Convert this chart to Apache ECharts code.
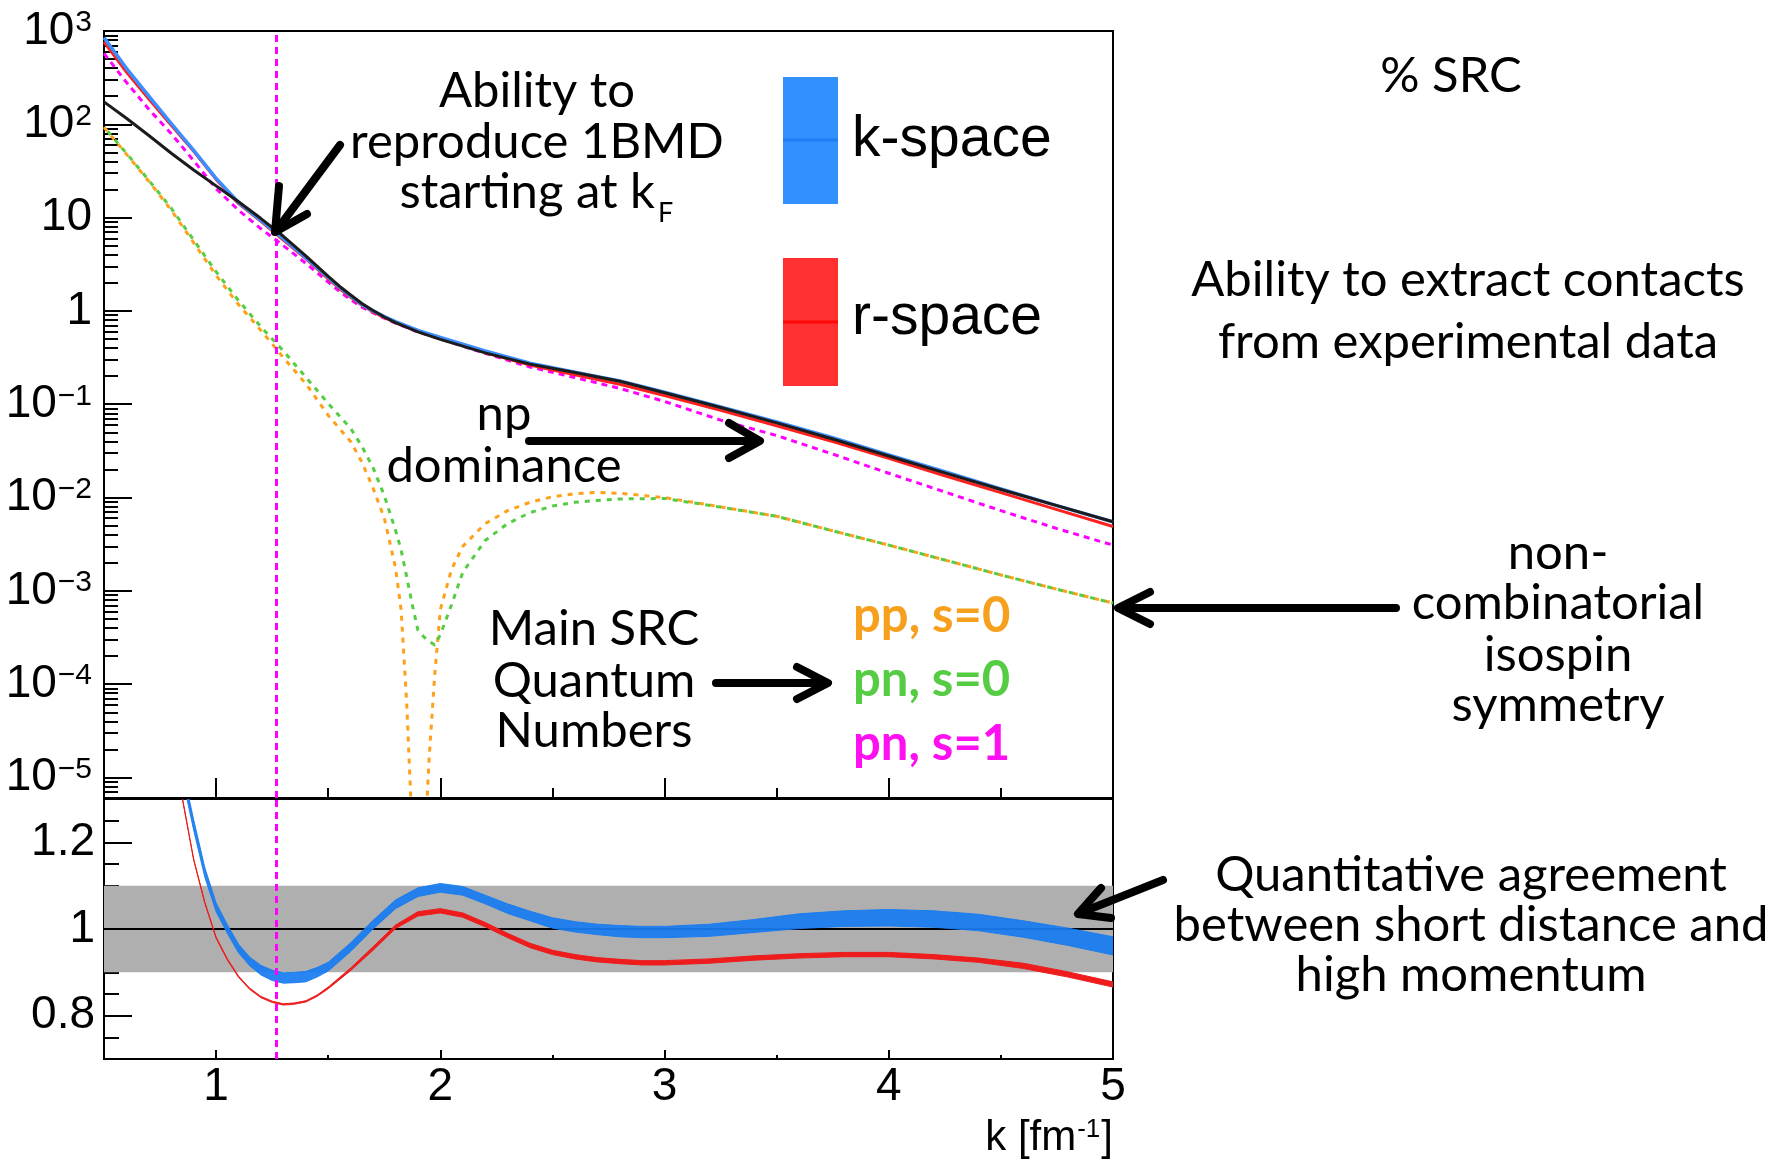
<!DOCTYPE html>
<html><head><meta charset="utf-8">
<script src="https://cdn.jsdelivr.net/npm/echarts@6/dist/echarts.min.js"></script>
<style>html,body{margin:0;padding:0;background:#fff}#c{width:1777px;height:1161px}</style>
</head><body><div id="c"></div>
<script>
// ---------------- data ----------------
// upper pad: momentum distribution n(k)
const kTop = [0.5,0.6,0.7,0.8,0.9,1.0,1.1,1.2,1.3,1.4,1.5,1.55,1.6,1.65,1.7,1.75,1.8,1.9,2.0,2.2,2.4,2.6,2.8,3.0,3.25,3.5,3.75,4.0,4.25,4.5,4.75,5.0];
const nBMD    = [174,116,75.9,49.0,32.4,21.9,14.8,9.77,6.31,3.89,2.34,1.84,1.48,1.20,1.01,0.861,0.75,0.596,0.495,0.355,0.269,0.219,0.176,0.133,0.0923,0.0631,0.0424,0.0279,0.0184,0.0122,0.0082,0.0055];
const nKspace = [851,398,200,102,52.5,26.3,14.5,9.33,5.96,3.72,2.29,1.80,1.445,1.175,1.0,0.871,0.767,0.617,0.519,0.372,0.275,0.221,0.178,0.135,0.0935,0.0645,0.0437,0.0287,0.0189,0.01235,0.0082,0.00548];
const nRspace = [767,363,186,97.7,51.3,25.7,14.1,9.12,5.75,3.63,2.21,1.74,1.40,1.15,0.977,0.851,0.75,0.603,0.507,0.359,0.263,0.207,0.164,0.124,0.0861,0.0589,0.0399,0.0263,0.01714,0.01128,0.00743,0.0049];
const nPnS1   = [575,282,145,79.4,40.7,20.4,12.0,7.59,5.01,3.24,2.04,1.62,1.32,1.10,0.955,0.836,0.741,0.596,0.501,0.351,0.251,0.193,0.148,0.107,0.0676,0.0462,0.0292,0.0182,0.01148,0.00724,0.00465,0.00309];

const kPair = [0.5,0.6,0.7,0.8,0.9,1.0,1.1,1.2,1.3,1.4,1.5,1.6,1.65,1.7,1.75,1.8,1.825,1.85,1.875,1.9,1.925,1.95,1.975,2.0,2.05,2.1,2.2,2.3,2.4,2.5,2.6,2.7,2.8,3.0,3.25,3.5,3.75,4.0,4.25,4.5,4.75,5.0];
const nPpS0 = [93.3,47.9,24.5,12.0,5.37,2.40,1.17,0.617,0.316,0.166,0.0759,0.0398,0.024,0.0126,0.00603,0.00178,6.3e-4,6.3e-5,2.5e-6,1e-8,1e-6,1.6e-5,1.26e-4,6.3e-4,1.7e-3,3.0e-3,5.25e-3,7.24e-3,8.9e-3,0.0102,0.011,0.01135,0.0111,0.01,0.00794,0.0063,0.0044,0.00309,0.00214,0.00148,0.00104,0.00074];
const nPnS0 = [93.3,49.0,25.1,12.6,5.75,2.63,1.29,0.676,0.372,0.195,0.102,0.055,0.0355,0.0209,0.0105,0.00447,0.00275,0.00141,7.1e-4,3.8e-4,3.24e-4,2.88e-4,2.63e-4,3.39e-4,7.1e-4,1.58e-3,3.47e-3,5.25e-3,6.9e-3,8.1e-3,8.9e-3,9.3e-3,9.66e-3,9.77e-3,0.0079,0.0063,0.0044,0.00309,0.00214,0.00148,0.00104,0.00074];

// lower pad: ratio to 1BMD
const kRatio = [0.85,0.9,0.95,1.0,1.05,1.1,1.15,1.2,1.25,1.3,1.35,1.4,1.45,1.5,1.6,1.7,1.8,1.9,2.0,2.1,2.2,2.3,2.4,2.5,2.6,2.7,2.8,2.9,3.0,3.2,3.4,3.6,3.8,4.0,4.2,4.4,4.6,4.8,5.0];
const ratioK    = [1.36,1.24,1.13,1.05,1.0,0.955,0.925,0.905,0.893,0.887,0.888,0.89,0.9,0.913,0.958,1.01,1.057,1.085,1.095,1.088,1.068,1.047,1.03,1.014,1.005,0.999,0.995,0.993,0.993,0.997,1.007,1.018,1.024,1.026,1.023,1.015,1.0,0.982,0.961];
const ratioKErr = [0.012,0.012,0.011,0.01,0.01,0.01,0.01,0.011,0.012,0.012,0.012,0.012,0.011,0.01,0.01,0.01,0.01,0.01,0.01,0.01,0.01,0.011,0.011,0.012,0.012,0.012,0.013,0.013,0.013,0.014,0.015,0.017,0.018,0.019,0.019,0.019,0.019,0.02,0.021];
const ratioR    = [1.30,1.16,1.06,0.98,0.93,0.89,0.862,0.843,0.832,0.826,0.828,0.833,0.846,0.864,0.907,0.955,1.005,1.035,1.042,1.032,1.01,0.985,0.962,0.946,0.936,0.929,0.925,0.922,0.922,0.926,0.933,0.938,0.941,0.941,0.936,0.928,0.915,0.895,0.872];
const ratioRErr = [0.0015,0.0015,0.0015,0.0015,0.0015,0.0015,0.0015,0.0015,0.0015,0.0015,0.0015,0.0015,0.0015,0.002,0.003,0.004,0.004,0.005,0.005,0.005,0.005,0.005,0.005,0.005,0.005,0.005,0.005,0.005,0.005,0.005,0.005,0.005,0.005,0.005,0.005,0.005,0.006,0.006,0.006];
const ratioBand = [0.9, 1.1];
const kF = 1.27;

// tick labels
const kMajor = [1,2,3,4,5];
const kMinor = [1.5,2.5,3.5,4.5];
const decades = [-5,-4,-3,-2,-1,0,1,2,3];
const ratioMajor = [0.8,1.0,1.2];
const ratioMinor = [0.75,0.85,0.9,0.95,1.05,1.1,1.15,1.25];

// ---------------- chart ----------------
const HEL = 'Liberation Sans';
const CAL = 'Lato';
const LBL = 46, SUP = 30;
const decMinor = [];
for (let n = -6; n <= 2; n++) for (let m = 2; m <= 9; m++) { const t = n + Math.log10(m); if (t > -5.22 && t < 3) decMinor.push(t); }
const toXY = (ks, vs) => ks.map((k, i) => [k, Math.log10(vs[i])]);

function xAx(grid, ticks, len, labels) {
  return {
    type: 'value', gridIndex: grid, position: 'bottom', min: 0.5, max: 5,
    axisLine: {show: false, onZero: false}, splitLine: {show: false},
    axisTick: {show: true, inside: true, length: len, customValues: ticks, lineStyle: {color: '#000', width: 2}},
    axisLabel: labels ? {show: true, customValues: labels, margin: 5, color: '#000', fontFamily: HEL, fontSize: LBL, formatter: v => String(v)} : {show: false}
  };
}
function yAx(grid, min, max, ticks, len, labels, fmt, margin) {
  const ax = {
    type: 'value', gridIndex: grid, position: 'left', min: min, max: max,
    axisLine: {show: false, onZero: false}, splitLine: {show: false},
    axisTick: {show: true, inside: true, length: len, customValues: ticks, lineStyle: {color: '#000', width: 2}},
    axisLabel: {show: false}
  };
  if (labels) {
    ax.axisLabel = {show: true, customValues: labels, margin: margin, color: '#000', fontFamily: HEL, fontSize: LBL, formatter: fmt,
      rich: {b: {fontFamily: HEL, fontSize: LBL, color: '#000'}, s: {fontFamily: HEL, fontSize: SUP, color: '#000', verticalAlign: 'top', padding: [0, 0, 0, 1]}}};
  }
  return ax;
}
const powFmt = v => {
  const p = Math.round(v);
  if (p === 0) return '{b|1}';
  if (p === 1) return '{b|10}';
  return '{b|10}{s|' + (p < 0 ? '\u2212' + (-p) : String(p)) + '}';
};
const ratioFmt = v => (Math.abs(v - 1) < 1e-9 ? '1' : String(+v.toFixed(2)));

function curve(name, ks, vs, color, width, dash, z) {
  return {
    name: name, type: 'line', xAxisIndex: 0, yAxisIndex: 0, data: toXY(ks, vs),
    showSymbol: false, symbol: 'none', clip: true, z: z, silent: true, smooth: false,
    lineStyle: {color: color, width: width, type: dash ? dash.type : 'solid', dashOffset: dash ? dash.offset : 0, cap: 'butt', join: 'round'}
  };
}
function band(name, centers, errs, color, z) {
  const rows = kRatio.map((k, i) => [k, centers[i] - errs[i], centers[i] + errs[i]]);
  return {
    name: name, type: 'custom', xAxisIndex: 2, yAxisIndex: 2, z: z, clip: true, silent: true,
    data: rows, encode: {x: 0, y: [1, 2]},
    renderItem: function (params, api) {
      if (params.dataIndex !== 0) return null;
      const top = rows.map(r => api.coord([r[0], r[2]]));
      const bot = rows.map(r => api.coord([r[0], r[1]])).reverse();
      return {type: 'polygon', shape: {points: top.concat(bot)}, style: {fill: color, stroke: color, lineWidth: 1, lineJoin: 'round'}};
    }
  };
}
const kFLine = (xi, yi, y0) => ({
  type: 'line', xAxisIndex: xi, yAxisIndex: yi, data: [[kF, y0]], showSymbol: false, symbol: 'none',
  lineStyle: {opacity: 0}, z: 10, silent: true,
  markLine: {silent: true, symbol: ['none', 'none'], label: {show: false}, animation: false,
    lineStyle: {color: '#ff00ff', width: 3, type: [7, 5]}, data: [{xAxis: kF}]}
});

// annotation helpers
function T(text, x, base, size, opts) {
  opts = opts || {};
  const fam = opts.family || CAL;
  return {type: 'text', x: x, y: base - (opts.k || 0.35) * size, z: 50, silent: true,
    style: {text: text, font: (opts.weight || 'normal') + ' ' + size + 'px "' + fam + '"', fill: opts.color || '#000',
      align: opts.align || 'center', verticalAlign: 'middle'}};
}
function arrow(shaft, head) {
  return [
    {type: 'line', z: 50, silent: true, shape: {x1: shaft[0], y1: shaft[1], x2: shaft[2], y2: shaft[3]}, style: {stroke: '#000', lineWidth: 8, lineCap: 'round'}},
    {type: 'polyline', z: 50, silent: true, shape: {points: head}, style: {stroke: '#000', lineWidth: 8, fill: null, lineCap: 'round', lineJoin: 'round'}}
  ];
}

const graphics = [
  T('Ability to', 537, 108, 49),
  T('reproduce 1BMD', 537, 159, 49),
  T('starting at k', 655, 209, 49, {align: 'right'}),
  T('F', 658, 223, 27, {align: 'left'}),
  T('np', 504, 431, 49),
  T('dominance', 504, 483, 49),
  T('Main SRC', 594, 646, 49),
  T('Quantum', 594, 698, 49),
  T('Numbers', 594, 748, 49),
  T('pp, s=0', 853, 633, 49, {align: 'left', weight: 'bold', color: '#f7a01e'}),
  T('pn, s=0', 853, 697, 49, {align: 'left', weight: 'bold', color: '#55cc44'}),
  T('pn, s=1', 853, 761, 49, {align: 'left', weight: 'bold', color: '#ff10f0'}),
  T('% SRC', 1451, 93, 49),
  T('Ability to extract contacts', 1468, 297, 49),
  T('from experimental data', 1468, 359, 49),
  T('non-', 1558, 570, 49),
  T('combinatorial', 1558, 620, 49),
  T('isospin', 1558, 672, 49),
  T('symmetry', 1558, 722, 49),
  T('Quantitative agreement', 1471, 892, 49),
  T('between short distance and', 1471, 942, 49),
  T('high momentum', 1471, 992, 49),
  // legend
  {type: 'rect', z: 40, silent: true, shape: {x: 783, y: 77, width: 55, height: 127}, style: {fill: '#3390ff'}},
  {type: 'line', z: 41, silent: true, shape: {x1: 783, y1: 140, x2: 838, y2: 140}, style: {stroke: '#1f7ff2', lineWidth: 3}},
  {type: 'rect', z: 40, silent: true, shape: {x: 783, y: 258, width: 55, height: 128}, style: {fill: '#ff3030'}},
  {type: 'line', z: 41, silent: true, shape: {x1: 783, y1: 322, x2: 838, y2: 322}, style: {stroke: '#ff0808', lineWidth: 3}},
  T('k-space', 852, 155, 57, {align: 'left', family: HEL, k: 0.26}),
  T('r-space', 852, 333, 57, {align: 'left', family: HEL, k: 0.26}),
  // axis title
  {type: 'text', x: 1113, y: 1152 - 0.33 * 42, z: 50, silent: true,
    style: {text: '{a|k [fm}{s|-1}{a|]}', align: 'right', verticalAlign: 'middle',
      rich: {a: {fontFamily: HEL, fontSize: 42, fill: '#000'}, s: {fontFamily: HEL, fontSize: 26, fill: '#000', verticalAlign: 'top', padding: [0, 1, 0, 1]}}}}
]
.concat(arrow([340, 145, 276, 231], [[279, 186], [275, 232], [307, 214]]))
.concat(arrow([529, 441, 758, 441], [[729, 423], [760, 441], [729, 458]]))
.concat(arrow([716, 683, 826, 683], [[797, 667], [828, 683], [797, 699]]))
.concat(arrow([1396, 608, 1120, 608], [[1150, 592], [1118, 608], [1150, 624]]))
.concat(arrow([1163, 880, 1080, 913], [[1101, 888], [1078, 914], [1111, 918]]));

const option = {
  animation: false,
  backgroundColor: '#fff',
  textStyle: {fontFamily: HEL},
  grid: [
    {left: 104, top: 31, width: 1009, height: 767, show: true, borderColor: '#000', borderWidth: 2, backgroundColor: 'transparent'},
    {left: 104, top: 799, width: 1009, height: 260, show: true, borderColor: '#000', borderWidth: 2, backgroundColor: 'transparent'}
  ],
  xAxis: [
    xAx(0, kMajor, 20, null),
    xAx(0, kMinor, 10, null),
    xAx(1, kMajor, 9, kMajor),
    xAx(1, kMinor, 4, null)
  ],
  yAxis: [
    yAx(0, -5.22, 3, decades, 28, decades, powFmt, 12),
    yAx(0, -5.22, 3, decMinor, 14, null),
    yAx(1, 0.7, 1.3, ratioMajor, 28, ratioMajor, ratioFmt, 9),
    yAx(1, 0.7, 1.3, ratioMinor, 15, null)
  ],
  series: [
    curve('pn, s=1', kTop, nPnS1, '#ff00ff', 3, {type: [6, 5], offset: 0}, 2),
    curve('pp, s=0', kPair, nPpS0, '#ffa01a', 3, {type: [5, 6], offset: 0}, 2),
    curve('pn, s=0', kPair, nPnS0, '#55cc44', 3, {type: [5, 6], offset: 5.5}, 3),
    curve('r-space', kTop, nRspace, '#ff2020', 3, null, 4),
    curve('k-space', kTop, nKspace, '#3b8eff', 3.5, null, 5),
    curve('1BMD', kTop, nBMD, '#1c1c1c', 3, null, 6),
    kFLine(0, 0, 0),
    {type: 'line', xAxisIndex: 2, yAxisIndex: 2, data: [[0.5, 1], [5, 1]], showSymbol: false, symbol: 'none', lineStyle: {opacity: 0}, z: 1, silent: true,
      markArea: {silent: true, itemStyle: {color: '#afafaf'}, data: [[{yAxis: ratioBand[0]}, {yAxis: ratioBand[1]}]]}},
    {type: 'line', xAxisIndex: 2, yAxisIndex: 2, data: [[0.5, 1], [5, 1]], showSymbol: false, symbol: 'none', z: 2, silent: true,
      lineStyle: {color: '#000', width: 2}},
    band('r-space ratio', ratioR, ratioRErr, '#ee1c1c', 3),
    band('k-space ratio', ratioK, ratioKErr, 'rgba(24,124,240,0.93)', 4),
    kFLine(2, 2, 1)
  ],
  graphic: graphics
};
const chart = echarts.init(document.getElementById('c'), null, {renderer: 'canvas'});
chart.setOption(option);
</script>
</body></html>
